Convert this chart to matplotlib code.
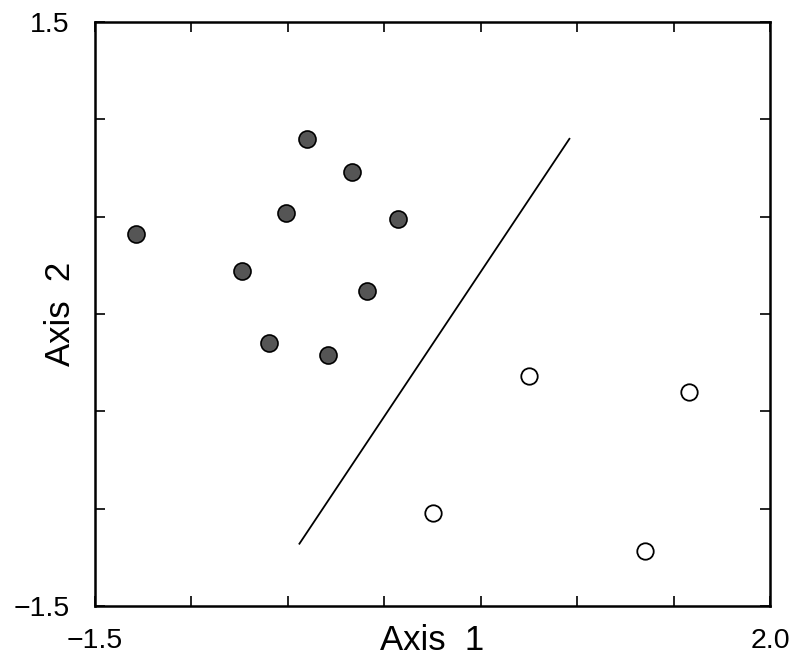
import matplotlib
matplotlib.use("Agg")
import matplotlib.pyplot as plt

# group 1 (filled) and group 2 (open) scores
x_filled = [-1.29, -0.74, -0.51, -0.40, -0.17, 0.07, -0.09, -0.60, -0.29]
y_filled = [0.41, 0.22, 0.52, 0.90, 0.73, 0.49, 0.12, -0.15, -0.21]
x_open = [0.75, 1.58, 0.25, 1.35]
y_open = [-0.32, -0.40, -1.02, -1.22]

# discriminating line
line_x = [-0.44, 0.96]
line_y = [-1.18, 0.90]

x_ticks = [-1.5, -1.0, -0.5, 0.0, 0.5, 1.0, 1.5, 2.0]
x_labels = ["\u22121.5", "", "", "", "", "", "", "2.0"]
y_ticks = [-1.5, -1.0, -0.5, 0.0, 0.5, 1.0, 1.5]
y_labels = ["\u22121.5", "", "", "", "", "", "1.5"]

plt.rcParams['font.family'] = ['Liberation Sans', 'DejaVu Sans']

fig = plt.figure(figsize=(7.95, 6.57), dpi=100)
ax = fig.add_axes([95 / 795, 1 - 606 / 657, 675 / 795, 584 / 657])

ax.plot(line_x, line_y, color='black', lw=1.3)
ax.scatter(x_filled, y_filled, s=150, facecolor='#555555', edgecolor='black',
           linewidth=1.2, zorder=3)
ax.scatter(x_open, y_open, s=140, facecolor='white', edgecolor='black',
           linewidth=1.3, zorder=3)

ax.set_xlim(-1.5, 2.0)
ax.set_ylim(-1.5, 1.5)
ax.set_xticks(x_ticks)
ax.set_xticklabels(x_labels)
ax.set_yticks(y_ticks)
ax.set_yticklabels(y_labels)
ax.tick_params(direction='in', top=True, right=True, length=7, width=1.2,
               labelsize=20.5)
ax.tick_params(axis='x', pad=16)
ax.tick_params(axis='y', pad=18)
for s in ax.spines.values():
    s.set_linewidth(1.8)

ax.set_xlabel("Axis  1", fontsize=25)
ax.set_ylabel("Axis  2", fontsize=25)
ax.xaxis.set_label_coords(0.5, -0.03)
ax.yaxis.set_label_coords(-0.027, 0.5)

fig.savefig("out.png", dpi=100)
